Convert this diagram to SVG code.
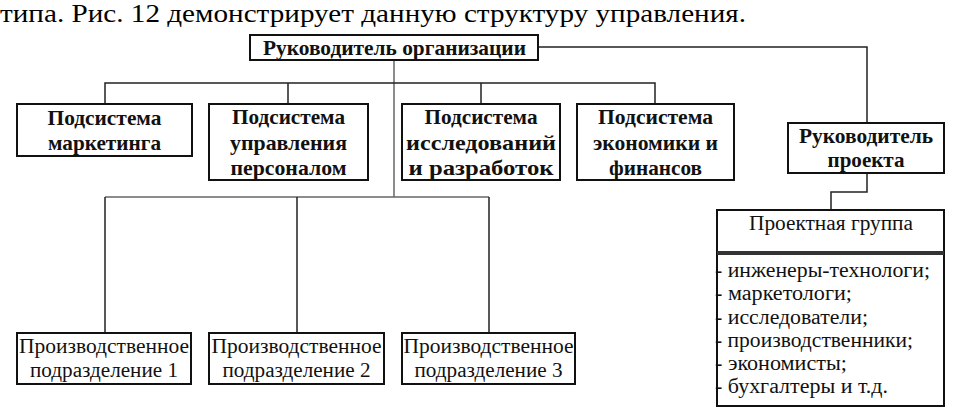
<svg xmlns="http://www.w3.org/2000/svg" width="972" height="416" viewBox="0 0 972 416">
<style>
.box{fill:#fff;stroke:#111;stroke-width:2}
.ln{fill:none;stroke:#222;stroke-width:1.5}
.lg{fill:none;stroke:#666;stroke-width:1.5}
.b{font-family:"Liberation Serif","Times New Roman",serif;font-weight:bold;font-size:21px;fill:#111;text-anchor:middle}
.r{font-family:"Liberation Serif","Times New Roman",serif;font-size:20px;fill:#111;text-anchor:middle}
.l{font-family:"Liberation Serif","Times New Roman",serif;font-size:20px;fill:#111}
.cap{font-family:"Liberation Serif","Times New Roman",serif;font-size:26px;fill:#000}
</style>
<rect width="972" height="416" fill="#fff"/>
<text class="cap" x="0" y="22" textLength="746" lengthAdjust="spacingAndGlyphs">типа. Рис. 12 демонстрирует данную структуру управления.</text>

<g id="connectors">
<path class="lg" d="M394 60V197"/>
<path class="ln" d="M105 104V83H655V104M288 83V104M481 83V104"/>
<path class="lg" d="M105 197H489"/>
<path class="ln" d="M105 197V333M297 197V333M489 197V333"/>
<path class="ln" d="M538 47H867V123"/>
<path class="ln" d="M867 173V192H831V210"/>
</g>

<g id="head">
<rect class="box" x="250" y="35" width="288" height="25"/>
<text class="b" x="394.5" y="55" textLength="263" lengthAdjust="spacingAndGlyphs">Руководитель организации</text>
</g>

<g id="sub1">
<rect class="box" x="17" y="104" width="175" height="52"/>
<text class="b" x="104.5" y="125" textLength="114" lengthAdjust="spacingAndGlyphs">Подсистема</text>
<text class="b" x="104.5" y="150" textLength="113" lengthAdjust="spacingAndGlyphs">маркетинга</text>
</g>

<g id="sub2">
<rect class="box" x="209" y="104" width="159" height="76"/>
<text class="b" x="288.5" y="124" textLength="113" lengthAdjust="spacingAndGlyphs">Подсистема</text>
<text class="b" x="288.5" y="149.5" textLength="117" lengthAdjust="spacingAndGlyphs">управления</text>
<text class="b" x="288.5" y="175" textLength="116" lengthAdjust="spacingAndGlyphs">персоналом</text>
</g>

<g id="sub3">
<rect class="box" x="402" y="104" width="158" height="76"/>
<text class="b" x="481" y="124" textLength="113" lengthAdjust="spacingAndGlyphs">Подсистема</text>
<text class="b" x="481" y="149.5" textLength="150" lengthAdjust="spacingAndGlyphs">исследований</text>
<text class="b" x="481" y="175" textLength="145" lengthAdjust="spacingAndGlyphs">и разработок</text>
</g>

<g id="sub4">
<rect class="box" x="577" y="104" width="157" height="76"/>
<text class="b" x="655.5" y="124" textLength="115" lengthAdjust="spacingAndGlyphs">Подсистема</text>
<text class="b" x="655.5" y="149.5" textLength="125" lengthAdjust="spacingAndGlyphs">экономики и</text>
<text class="b" x="655.5" y="175" textLength="93" lengthAdjust="spacingAndGlyphs">финансов</text>
</g>

<g id="pm">
<rect class="box" x="788" y="123" width="156" height="50"/>
<text class="b" x="866" y="143" textLength="134" lengthAdjust="spacingAndGlyphs">Руководитель</text>
<text class="b" x="866" y="167" textLength="77" lengthAdjust="spacingAndGlyphs">проекта</text>
</g>

<g id="pg">
<rect class="box" x="717" y="210" width="227" height="196"/>
<rect x="717" y="251" width="227" height="4" fill="#333"/>
<text class="r" x="831" y="230" textLength="164" lengthAdjust="spacingAndGlyphs">Проектная группа</text>
<text class="l" x="715" y="277" textLength="215" lengthAdjust="spacingAndGlyphs">- инженеры-технологи;</text>
<text class="l" x="715" y="300" textLength="137" lengthAdjust="spacingAndGlyphs">- маркетологи;</text>
<text class="l" x="715" y="323.5" textLength="153" lengthAdjust="spacingAndGlyphs">- исследователи;</text>
<text class="l" x="715" y="347" textLength="198" lengthAdjust="spacingAndGlyphs">- производственники;</text>
<text class="l" x="715" y="370" textLength="132" lengthAdjust="spacingAndGlyphs">- экономисты;</text>
<text class="l" x="715" y="393" textLength="173" lengthAdjust="spacingAndGlyphs">- бухгалтеры и т.д.</text>
</g>

<g id="pu1">
<rect class="box" x="17" y="333" width="174" height="51"/>
<text class="r" x="104" y="353" textLength="170" lengthAdjust="spacingAndGlyphs">Производственное</text>
<text class="r" x="104" y="377" textLength="148" lengthAdjust="spacingAndGlyphs">подразделение 1</text>
</g>

<g id="pu2">
<rect class="box" x="209" y="333" width="175" height="51"/>
<text class="r" x="296.5" y="353" textLength="170" lengthAdjust="spacingAndGlyphs">Производственное</text>
<text class="r" x="296.5" y="377" textLength="148" lengthAdjust="spacingAndGlyphs">подразделение 2</text>
</g>

<g id="pu3">
<rect class="box" x="402" y="333" width="173" height="51"/>
<text class="r" x="488.5" y="353" textLength="170" lengthAdjust="spacingAndGlyphs">Производственное</text>
<text class="r" x="488.5" y="377" textLength="148" lengthAdjust="spacingAndGlyphs">подразделение 3</text>
</g>
</svg>
